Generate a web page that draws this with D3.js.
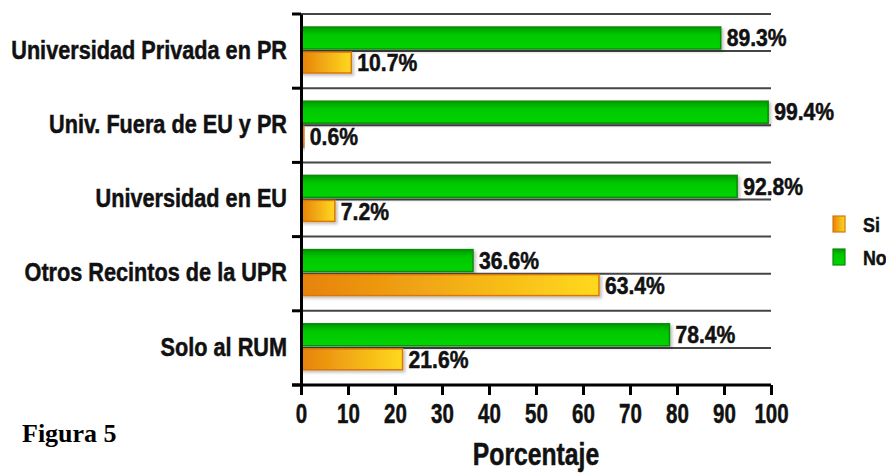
<!DOCTYPE html>
<html>
<head>
<meta charset="utf-8">
<script src="https://cdn.jsdelivr.net/npm/d3@7"></script>
<style>
  body { margin: 0; background: #fff; }
  text { font-family: "Liberation Sans", Arial, sans-serif; font-weight: bold; }
  .heavy { stroke: #111; stroke-width: 0.5px; }
</style>
</head>
<body>
<div id="chart"></div>
<script>
const categories = ["Universidad Privada en PR", "Univ. Fuera de EU y PR", "Universidad en EU", "Otros Recintos de la UPR", "Solo al RUM"];
const siValues = [10.7, 0.6, 7.2, 63.4, 21.6];
const noValues = [89.3, 99.4, 92.8, 36.6, 78.4];
const xTicks = [0, 10, 20, 30, 40, 50, 60, 70, 80, 90, 100];
const seriesNames = ["Si", "No"];

const W = 886, H = 473;
const svg = d3.select("#chart").append("svg")
    .attr("width", W).attr("height", H);

// squeeze text horizontally (no narrow font installed)
function narrow(sel, s) {
    sel.each(function () {
        const t = d3.select(this);
        const x0 = +t.attr("x") || 0;
        t.attr("x", x0 / s).attr("transform", "scale(" + s + ",1)");
    });
}

const defs = svg.append("defs");
// orange bar: orange at left, yellow at right
const og = defs.append("linearGradient").attr("id", "orangeGrad")
    .attr("x1", "0%").attr("x2", "100%").attr("y1", "0%").attr("y2", "0%");
og.append("stop").attr("offset", "0%").attr("stop-color", "#e6820c");
og.append("stop").attr("offset", "100%").attr("stop-color", "#ffd91e");
// green bar: darker at top edge
const gg = defs.append("linearGradient").attr("id", "greenGrad")
    .attr("x1", "0%").attr("x2", "0%").attr("y1", "0%").attr("y2", "100%");
gg.append("stop").attr("offset", "0%").attr("stop-color", "#009a00");
gg.append("stop").attr("offset", "35%").attr("stop-color", "#00c800");
gg.append("stop").attr("offset", "100%").attr("stop-color", "#00d400");
const sh = defs.append("filter").attr("id", "shadow")
    .attr("x", "-5%").attr("y", "-20%").attr("width", "115%").attr("height", "160%");
sh.append("feDropShadow").attr("dx", 2).attr("dy", 2).attr("stdDeviation", 1.5)
    .attr("flood-color", "#000").attr("flood-opacity", 0.25);

const x = d3.scaleLinear().domain([0, 100]).range([301, 771]);
const y = d3.scaleBand().domain(categories).range([14, 385]).padding(0);
const bw = y.bandwidth();

// floor lines at every half band
const floorLines = d3.range(0, 10).map(i => 14 + i * bw / 2);
svg.selectAll("line.grid")
    .data(floorLines)
    .enter().append("line")
    .attr("x1", x(0)).attr("x2", x(100))
    .attr("y1", d => d).attr("y2", d => d)
    .attr("stroke", "#454545").attr("stroke-width", 2);

const rows = categories.map((c, i) => ({cat: c, si: siValues[i], no: noValues[i]}));
const barH = 22;

// No bars (green, upper)
svg.selectAll("rect.no")
    .data(rows)
    .enter().append("rect")
    .attr("x", x(0))
    .attr("y", d => y(d.cat) + 13)
    .attr("width", d => x(d.no) - x(0))
    .attr("height", barH)
    .attr("fill", "url(#greenGrad)")
    .attr("stroke", "#0a8a0a").attr("stroke-width", 1.5)
    .attr("filter", "url(#shadow)");

// Si bars (orange, lower)
svg.selectAll("rect.si")
    .data(rows)
    .enter().append("rect")
    .attr("x", x(0))
    .attr("y", d => y(d.cat) + 38)
    .attr("width", d => x(d.si) - x(0))
    .attr("height", barH - 1)
    .attr("fill", "url(#orangeGrad)")
    .attr("stroke", "#d9760a").attr("stroke-width", 1.5)
    .attr("filter", "url(#shadow)");

// value labels
const noLab = svg.selectAll("text.no")
    .data(rows)
    .enter().append("text")
    .attr("class", "heavy")
    .attr("x", d => x(d.no) + 6)
    .attr("y", d => y(d.cat) + 13 + barH / 2)
    .attr("dy", "0.36em")
    .attr("font-size", 23)
    .attr("fill", "#111")
    .text(d => d.no.toFixed(1) + "%");
narrow(noLab, 0.92);

const siLab = svg.selectAll("text.si")
    .data(rows)
    .enter().append("text")
    .attr("class", "heavy")
    .attr("x", d => x(d.si) + 6)
    .attr("y", d => y(d.cat) + 38 + barH / 2)
    .attr("dy", "0.36em")
    .attr("font-size", 23)
    .attr("fill", "#111")
    .text(d => d.si.toFixed(1) + "%");
narrow(siLab, 0.92);

// y axis
const yAxis = svg.append("g")
    .attr("transform", "translate(" + x(0) + ",0)")
    .call(d3.axisLeft(y).tickSize(0).tickPadding(14));
yAxis.select(".domain").attr("stroke", "#000").attr("stroke-width", 3);
yAxis.selectAll("text").attr("class", "heavy").attr("font-size", 25.5).attr("fill", "#111").attr("dy", "0.3em");
narrow(yAxis.selectAll("text"), 0.85);
// ticks at band edges
svg.selectAll("line.ytick")
    .data(d3.range(0, 6).map(i => 14 + i * bw))
    .enter().append("line")
    .attr("x1", x(0) - 9).attr("x2", x(0))
    .attr("y1", d => d).attr("y2", d => d)
    .attr("stroke", "#000").attr("stroke-width", 3);

// x axis
const xAxis = svg.append("g")
    .attr("transform", "translate(0,385)")
    .call(d3.axisBottom(x).tickValues(xTicks).tickSize(10).tickPadding(9));
xAxis.select(".domain").attr("stroke", "#000").attr("stroke-width", 3)
    .attr("d", "M" + (x(0) - 9) + ",0H" + x(100));
xAxis.selectAll(".tick line").attr("stroke", "#000").attr("stroke-width", 3);
xAxis.selectAll("text").attr("class", "heavy").attr("font-size", 27).attr("fill", "#111");
narrow(xAxis.selectAll("text"), 0.76);

const xTitle = svg.append("text")
    .attr("class", "heavy")
    .attr("x", 536).attr("y", 465)
    .attr("text-anchor", "middle")
    .attr("font-size", 30.5)
    .attr("fill", "#111")
    .text("Porcentaje");
narrow(xTitle, 0.81);

svg.append("text")
    .attr("x", 22).attr("y", 442)
    .style("font-family", "'Liberation Serif', 'Times New Roman', serif")
    .attr("font-size", 26)
    .attr("fill", "#000")
    .text("Figura 5");

// legend
const legend = svg.append("g");
const legItems = legend.selectAll("g")
    .data(seriesNames)
    .enter().append("g")
    .attr("transform", (d, i) => "translate(833," + (216 + i * 33) + ")");
legItems.append("rect")
    .attr("width", 12).attr("height", 16)
    .attr("fill", (d, i) => i === 0 ? "url(#orangeGrad)" : "url(#greenGrad)")
    .attr("stroke", (d, i) => i === 0 ? "#d9760a" : "#0a8a0a")
    .attr("stroke-width", 1.2);
const legText = legItems.append("text")
    .attr("class", "heavy")
    .attr("x", 30).attr("y", 8).attr("dy", "0.36em")
    .attr("font-size", 21)
    .attr("fill", "#111")
    .text(d => d);
narrow(legText, 0.85);
</script>
</body>
</html>
